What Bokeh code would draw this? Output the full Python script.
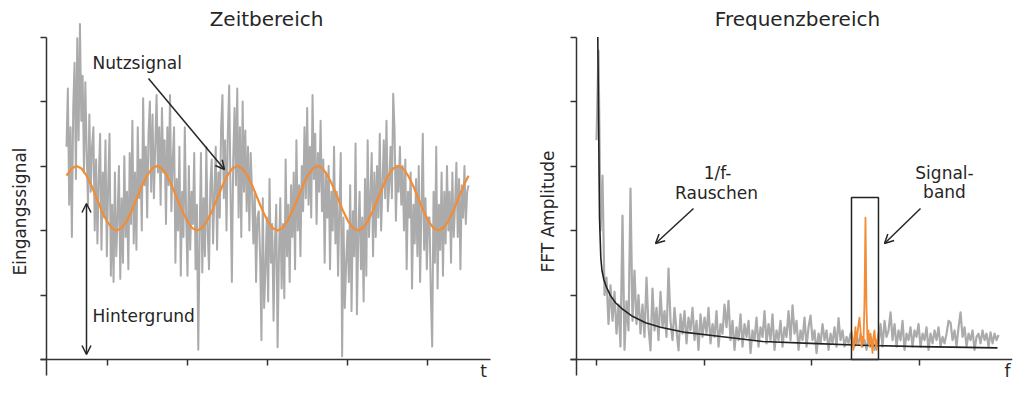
import numpy as np
from bokeh.plotting import figure
from bokeh.layouts import row
from bokeh.models import Label, Arrow, OpenHead, FixedTicker, LinearAxis
from bokeh.embed import file_html
from bokeh.resources import INLINE

# ---------------- data ----------------
# time domain
t_start, t_end = 0.4875, 5.5125
nutzsignal = [
    2.85, 2.96, 3.0, 2.96, 2.85, 2.69, 2.5, 2.31, 2.15, 2.04, 2.0, 2.04, 2.15, 2.31, 2.5, 2.69,
    2.85, 2.96, 3.0, 2.96, 2.85, 2.69, 2.5, 2.31, 2.15, 2.04, 2.0, 2.04, 2.15, 2.31, 2.5, 2.69,
    2.85, 2.96, 3.0, 2.96, 2.85, 2.69, 2.5, 2.31, 2.15, 2.04, 2.0, 2.04, 2.15, 2.31, 2.5, 2.69,
    2.85, 2.96, 3.0, 2.96, 2.85, 2.69, 2.5, 2.31, 2.15, 2.04, 2.0, 2.04, 2.15, 2.31, 2.5, 2.69,
    2.85, 2.96, 3.0, 2.96, 2.85, 2.69, 2.5, 2.31, 2.15, 2.04, 2.0, 2.04, 2.15, 2.31, 2.5, 2.69,
    2.85,
]
eingangssignal = [
    3.3, 4.2, 2.4, 3.6, 1.9, 3.9, 4.6, 2.8, 4.98, 3.4,
    5.2, 3.7, 4.4, 2.9, 4.3, 3.2, 2.4, 3.8, 2.6, 3.3,
    3.6, 2.0, 3.1, 1.8, 2.8, 3.5, 1.7, 2.9, 2.2, 3.4,
    1.6, 2.7, 3.5, 1.3, 2.4, 1.2, 2.9, 1.6, 2.2, 3.0,
    1.25, 2.5, 1.5, 3.15, 1.9, 2.6, 1.4, 3.2, 2.1, 3.7,
    1.8, 2.9, 1.7, 3.6, 2.5, 3.1, 2.0, 4.05, 2.7, 3.3,
    2.2, 3.5, 4.0, 2.6, 3.8, 2.5, 3.3, 4.1, 2.9, 3.6,
    2.4, 3.9, 2.9, 3.4, 2.1, 3.6, 2.7, 4.1, 2.3, 3.1,
    3.6, 1.5, 2.8, 2.0, 3.3, 1.3, 2.6, 1.9, 3.6, 2.2,
    1.3, 3.0, 1.7, 2.6, 2.1, 3.2, 1.4, 2.4, 0.15, 1.9,
    3.2, 1.35, 2.5, 1.6, 3.3, 2.0, 1.4, 2.7, 3.1, 1.8,
    2.6, 3.3, 1.7, 2.9, 2.2, 3.6, 4.1, 2.5, 3.4, 2.0,
    3.5, 4.25, 2.6, 1.2, 3.1, 3.9, 2.7, 4.2, 2.2, 3.6,
    1.9, 4.0, 2.6, 3.55, 2.3, 3.3, 2.0, 3.2, 2.6, 1.8,
    2.6, 1.2, 2.2, 2.3, 1.6, 0.3, 2.5, 0.8, 1.4, 2.2,
    0.9, 2.8, 1.5, 2.1, 0.6, 1.8, 2.4, 0.19, 1.6, 2.5,
    1.1, 2.1, 0.95, 3.1, 1.6, 2.4, 1.2, 2.7, 1.9, 2.9,
    1.4, 3.4, 2.0, 2.7, 1.6, 3.0, 2.3, 3.6, 2.5, 3.9,
    2.4, 3.3, 2.2, 4.1, 2.8, 3.5, 2.1, 3.2, 2.6, 3.7,
    2.3, 3.1, 1.5, 2.9, 2.2, 3.0, 1.4, 2.6, 2.0, 3.3,
    1.8, 2.6, 1.3, 2.4, 3.2, 0.05, 2.2, 0.8, 1.5, 2.0,
    1.2, 2.7, 0.75, 2.3, 1.6, 3.35, 0.7, 1.9, 2.6, 1.4,
    2.2, 0.9, 2.8, 1.3, 3.4, 1.9, 2.5, 3.2, 1.6, 2.9,
    1.9, 3.0, 2.2, 3.5, 2.0, 2.7, 3.4, 2.5, 3.7, 2.3,
    2.7, 3.3, 2.5, 4.12, 3.55, 2.15, 3.0, 2.6, 3.3, 2.4,
    3.0, 2.0, 3.1, 1.4, 2.6, 2.2, 2.9, 1.1, 2.4, 1.8,
    2.8, 1.6, 3.0, 1.2, 2.3, 3.5, 1.7, 2.5, 1.4, 2.2,
    2.2, 1.0, 0.2, 2.6, 1.5, 3.3, 1.1, 2.4, 1.7, 2.9,
    1.3, 2.6, 1.8, 3.0, 2.0, 2.6, 1.5, 2.9, 1.9, 2.4,
    3.05, 1.9, 2.8, 1.4, 2.7, 2.2, 3.0, 2.1, 2.6, 2.7,
]

# frequency domain
f_start, f_end = 0.0, 3.74
fft_amplitude = [
    3.4, 4.79, 2.0, 2.85, 1.0, 1.27, 0.55, 1.15, 0.6, 1.05,
    0.4, 0.85, 0.2, 2.23, 0.15, 0.9, 0.45, 2.65, 0.6, 1.38,
    0.55, 1.0, 0.4, 0.85, 0.35, 1.27, 0.5, 0.14, 1.1, 0.45,
    0.8, 0.3, 1.05, 0.5, 0.75, 0.35, 1.41, 0.6, 0.3, 0.8,
    0.45, 0.14, 0.7, 0.4, 0.75, 0.25, 0.65, 0.45, 0.8, 0.3,
    0.6, 0.15, 0.7, 0.35, 0.65, 0.4, 0.8, 0.25, 0.55, 0.35,
    0.75, 0.2, 0.55, 0.4, 0.85, 0.5, 0.91, 0.3, 0.6, 0.15,
    0.5, 0.3, 0.7, 0.2, 0.55, 0.35, 0.6, 0.1, 0.45, 0.3,
    0.65, 0.2, 0.5, 0.35, 0.75, 0.25, 0.55, 0.3, 0.7, 0.15,
    0.45, 0.3, 0.6, 0.2, 0.5, 0.35, 0.75, 0.3, 0.84, 0.4,
    0.6, 0.15, 0.45, 0.3, 0.65, 0.2, 0.5, 0.68, 0.3, 0.45,
    0.1, 0.4, 0.25, 0.55, 0.3, 0.45, 0.15, 0.4, 0.25, 0.5,
    0.2, 0.64, 0.3, 0.45, 0.2, 0.35, 0.25, 0.4, 0.3, 0.2,
    0.35, 0.25, 0.4, 0.2, 0.3, 0.15, 0.35, 0.2, 0.3, 0.15,
    0.3, 0.25, 0.55, 0.2, 0.6, 0.35, 0.45, 0.73, 0.3, 0.55,
    0.2, 0.45, 0.3, 0.6, 0.15, 0.4, 0.3, 0.5, 0.2, 0.45,
    0.35, 0.55, 0.2, 0.4, 0.3, 0.5, 0.15, 0.4, 0.25, 0.45,
    0.3, 0.5, 0.2, 0.35, 0.25, 0.4, 0.6, 0.57, 0.3, 0.45,
    0.2, 0.5, 0.73, 0.35, 0.5, 0.2, 0.4, 0.3, 0.45, 0.15,
    0.35, 0.4, 0.25, 0.45, 0.3, 0.4, 0.2, 0.42, 0.25, 0.4,
    0.3, 0.38,
]
band_f_start, band_f_end = 2.372, 2.623
band_amplitude = [
    0.45, 0.3, 0.15, 0.35, 0.5, 0.25, 0.4, 0.55, 0.65, 0.45,
    0.2, 0.35, 0.25, 0.9, 2.2, 0.8, 0.3, 0.45, 0.2, 0.4,
    0.3, 0.1, 0.35, 0.45, 0.25, 0.15, 0.3, 0.42,
]
curve_f = [0.012, 0.0186, 0.028, 0.040, 0.051, 0.068, 0.093, 0.130, 0.177, 0.242,
           0.335, 0.456, 0.595, 0.828, 1.135, 1.544, 1.99, 2.456, 3.014, 3.73]
curve_amplitude = [5.0, 3.86, 2.20, 1.58, 1.38, 1.24, 1.12, 0.99, 0.88, 0.78,
                   0.67, 0.57, 0.50, 0.42, 0.36, 0.28, 0.25, 0.22, 0.20, 0.18]
band_box_left, band_box_right, band_box_top = 2.372, 2.623, 2.51

time_ticks = [1, 2, 3, 4, 5]
freq_ticks = [0, 1, 2, 3]
amp_ticks = [0, 1, 2, 3, 4, 5]

# ---------------- styling ----------------
FONT = "DejaVu Sans"
TXT = "#262626"
AX = "#333333"
GRAY = "#ababab"
ORANGE = "#f28d35"
H = 382
TOP = 4          # frame top (px)
RB = 4           # right border (px)
Y_RANGE = ((359 - H) / 64.5, (359 - TOP) / 64.5)
BASE_SHIFT = 0.42  # svg text baseline correction (em)


def ypx(py):
    return (359 - py) / 64.5


def style_axes(p, yaxis_x, xticks, xbounds):
    xa = LinearAxis(ticker=FixedTicker(ticks=xticks))
    ya = LinearAxis(ticker=FixedTicker(ticks=amp_ticks))
    p.add_layout(xa, "above")
    p.add_layout(ya, "right")
    for ax in (xa, ya):
        ax.axis_line_color = AX
        ax.axis_line_width = 1.5
        ax.major_tick_line_color = AX
        ax.major_tick_line_width = 1.5
        ax.major_tick_out = 0
        ax.major_tick_in = 6
        ax.minor_tick_line_color = None
        ax.major_label_text_font_size = "1px"
        ax.major_label_text_color = None
        ax.major_label_standoff = 0
    xa.fixed_location = 0
    xa.bounds = xbounds
    ya.fixed_location = yaxis_x
    ya.bounds = (-0.25, 5.0)
    p.grid.visible = False
    p.outline_line_color = None


def label(p, x, py, text, size=17, align="left", baseline="alphabetic", angle=0.0):
    shift = BASE_SHIFT * size if baseline == "alphabetic" else 0.0
    p.add_layout(Label(x=x, y=ypx(py - shift), text=text, text_font=FONT,
                       text_font_size=f"{size}px", text_color=TXT,
                       text_align=align, text_baseline=baseline, angle=angle))


def arrow(p, x0, y0, x1, y1, both=False):
    head = dict(size=9, line_width=1.5, line_color=TXT)
    p.add_layout(Arrow(start=OpenHead(**head) if both else None, end=OpenHead(**head),
                       x_start=x0, y_start=y0, x_end=x1, y_end=y1,
                       line_color=TXT, line_width=1.5))


# ---------------- left: Zeitbereich ----------------
W1 = 538
def X(px):
    return (px - 27) / 80

p1 = figure(width=W1, height=H, x_range=(X(0), X(W1 - RB)), y_range=Y_RANGE,
            output_backend="svg", toolbar_location=None, x_axis_location=None,
            y_axis_location=None, min_border_left=0, min_border_right=RB,
            min_border_top=TOP, min_border_bottom=0)
style_axes(p1, X(46), time_ticks, (X(40), X(490)))

t_sig = np.linspace(t_start, t_end, len(eingangssignal))
t_nutz = np.linspace(t_start, t_end, len(nutzsignal))
p1.line(t_sig, eingangssignal, line_color=GRAY, line_width=2.0, line_join="round")
p1.line(t_nutz, nutzsignal, line_color=ORANGE, line_width=2.2, line_join="round")

label(p1, X(266), 27, "Zeitbereich", size=20, align="center")
label(p1, X(92), 70, "Nutzsignal")
arrow(p1, X(148), ypx(78), X(224), ypx(169))
label(p1, X(92), 323, "Hintergrund")
arrow(p1, X(86), ypx(203), X(86), ypx(354), both=True)
label(p1, X(19), 211, "Eingangssignal", align="center", baseline="middle", angle=np.pi / 2)
label(p1, X(483), 370, "t", align="center", baseline="middle")

# ---------------- right: Frequenzbereich ----------------
W2 = 478
def F(px):
    return (px - 596) / 107.5

p2 = figure(width=W2, height=H, x_range=(F(W1), F(W1 + W2 - RB)), y_range=Y_RANGE,
            output_backend="svg", toolbar_location=None, x_axis_location=None,
            y_axis_location=None, min_border_left=0, min_border_right=RB,
            min_border_top=TOP, min_border_bottom=0)
style_axes(p2, F(576), freq_ticks, (F(570), F(W1 + W2 - RB)))

f_sig = np.linspace(f_start, f_end, len(fft_amplitude))
f_band = np.linspace(band_f_start, band_f_end, len(band_amplitude))
p2.line(f_sig, fft_amplitude, line_color=GRAY, line_width=2.2, line_join="round")
p2.line(curve_f, curve_amplitude, line_color="#222222", line_width=1.6, line_join="round")
p2.line(f_band, band_amplitude, line_color=ORANGE, line_width=1.8, line_join="round")
p2.quad(left=[band_box_left], right=[band_box_right], bottom=[0], top=[band_box_top],
        fill_color=None, line_color="#222222", line_width=1.5)

label(p2, F(797), 27, "Frequenzbereich", size=20, align="center")
label(p2, F(717), 180, "1/f-", align="center")
label(p2, F(716), 200, "Rauschen", align="center")
arrow(p2, F(693), ypx(208), F(655), ypx(243))
label(p2, F(944), 180, "Signal-", align="center")
label(p2, F(944), 199, "band", align="center")
arrow(p2, F(920), ypx(208), F(884), ypx(243))
label(p2, F(547), 211, "FFT Amplitude", align="center", baseline="middle", angle=np.pi / 2)
label(p2, F(1007), 370, "f", align="center", baseline="middle")

layout = row(p1, p2)
open("out.html", "w").write(file_html(layout, INLINE))
